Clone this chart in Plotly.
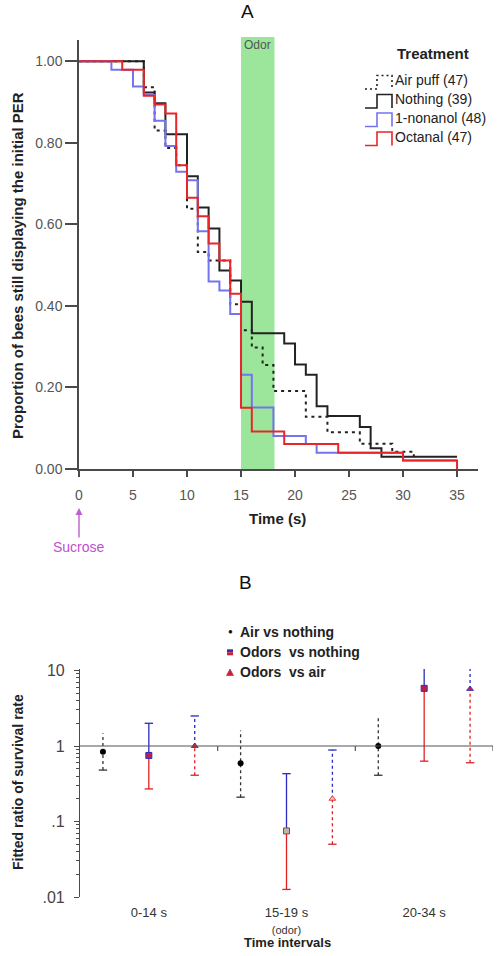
import plotly.graph_objects as go

W, H = 498, 956


def px(x):
    return x / W


def py(y):
    return 1 - y / H


# ---------------- Panel A data (Kaplan-Meier style step curves) ----------------
airpuff_t = [0, 6, 7, 8, 9, 10, 11, 12, 14, 15, 16, 17, 18, 21, 23, 26, 29, 31]
airpuff_s = [1.0, 0.936, 0.830, 0.787, 0.745, 0.638, 0.532, 0.511, 0.404, 0.340,
             0.298, 0.255, 0.191, 0.128, 0.090, 0.062, 0.042, 0.022]

nothing_t = [0, 6, 7, 8, 10, 11, 12, 13, 14, 15, 16, 19, 20, 21, 22, 23, 26, 27, 28, 35]
nothing_s = [1.0, 0.923, 0.897, 0.821, 0.718, 0.641, 0.590, 0.487, 0.462, 0.410,
             0.333, 0.308, 0.256, 0.231, 0.154, 0.130, 0.103, 0.051, 0.030, 0.030]

nonanol_t = [0, 3, 5, 6, 7, 8, 9, 10, 11, 12, 13, 14, 15, 16, 18, 21, 22, 30, 35]
nonanol_s = [1.0, 0.979, 0.938, 0.917, 0.854, 0.792, 0.729, 0.708, 0.583, 0.460,
             0.438, 0.380, 0.231, 0.151, 0.081, 0.061, 0.040, 0.021, 0.021]

octanal_t = [0, 4, 6, 7, 8, 9, 10, 11, 12, 13, 14, 15, 16, 19, 24, 30, 35]
octanal_s = [1.0, 0.979, 0.915, 0.894, 0.872, 0.745, 0.665, 0.620, 0.553, 0.511,
             0.430, 0.150, 0.092, 0.061, 0.040, 0.021, 0.0]

legend_labels = ["Air puff (47)", "Nothing (39)", "1-nonanol (48)", "Octanal (47)"]
odor_window = [15, 18.1]
x_ticks_a = [0, 5, 10, 15, 20, 25, 30, 35]
y_ticks_a = [0.0, 0.2, 0.4, 0.6, 0.8, 1.0]

# ---------------- Panel B data (fitted ratios with CIs) ----------------
intervals = ["0-14 s", "15-19 s<br><span style='font-size:11px'>(odor)</span>", "20-34 s"]
air_est = [0.84, 0.59, 1.0]
air_lo = [0.48, 0.21, 0.41]
air_hi = [1.47, 1.61, 2.4]

odn_est = [0.75, 0.075, 5.8]
odn_lo = [0.27, 0.0126, 0.63]
odn_hi = [2.0, 0.43, 40.0]

oda_est = [1.0, 0.20, 5.7]
oda_lo = [0.41, 0.05, 0.60]
oda_hi = [2.5, 0.885, 40.0]

BLACK = "#222222"
BLUE = "#7474ee"
RED = "#e8262a"
EBLUE = "#2a2ac0"
ERED = "#e02020"

fig = go.Figure()

# Panel A curves
dash_dot = "3px,4px"
for t, s, col, dash in [(airpuff_t, airpuff_s, BLACK, dash_dot),
                        (nothing_t, nothing_s, BLACK, "solid"),
                        (nonanol_t, nonanol_s, BLUE, "solid"),
                        (octanal_t, octanal_s, RED, "solid")]:
    fig.add_trace(go.Scatter(x=t, y=s, mode="lines",
                             line=dict(color=col, width=2, dash=dash, shape="hv"),
                             xaxis="x", yaxis="y", showlegend=False, hoverinfo="skip"))


# Panel B
def group_x(series_idx):
    return [3 * g + series_idx + 0.5 for g in range(len(intervals))]


def vsegs(xv, a, b):
    xx, yy = [], []
    for x0, y0, y1 in zip(xv, a, b):
        xx += [x0, x0, None]
        yy += [y0, y1, None]
    return xx, yy


def add_bar(xv, a, b, col, dash):
    xx, yy = vsegs(xv, a, b)
    fig.add_trace(go.Scatter(x=xx, y=yy, mode="lines", line=dict(color=col, width=1.3, dash=dash),
                             xaxis="x2", yaxis="y2", showlegend=False, hoverinfo="skip"))


def add_caps(xv, v, col):
    fig.add_trace(go.Scatter(x=xv, y=v, mode="markers",
                             marker=dict(symbol="line-ew", size=6, line=dict(width=1.3, color=col)),
                             xaxis="x2", yaxis="y2", showlegend=False, hoverinfo="skip"))


xa, xn, xo = group_x(0), group_x(1), group_x(2)
# Air vs nothing: black dotted
add_bar(xa, air_lo, air_hi, "#333333", "dot")
add_caps(xa, air_lo + air_hi, "#333333")
# Odors vs nothing: solid, blue upper / red lower
add_bar(xn, odn_est, odn_hi, EBLUE, "solid")
add_bar(xn, odn_lo, odn_est, ERED, "solid")
add_caps(xn, odn_hi, EBLUE)
add_caps(xn, odn_lo, ERED)
# Odors vs air: dotted, blue upper / red lower
add_bar(xo, oda_est, oda_hi, EBLUE, "dot")
add_bar(xo, oda_lo, oda_est, ERED, "dot")
add_caps(xo, oda_hi, EBLUE)
add_caps(xo, oda_lo, ERED)

fig.add_trace(go.Scatter(x=xa, y=air_est, mode="markers",
                         marker=dict(symbol="circle", size=6, color="black"),
                         xaxis="x2", yaxis="y2", showlegend=False, hoverinfo="skip"))
fig.add_trace(go.Scatter(x=xn, y=odn_est, mode="markers",
                         marker=dict(symbol="square", size=6, color=["#c02040", "#a8c0b0", "#c02040"],
                                     line=dict(width=1, color=[EBLUE, ERED, EBLUE])),
                         xaxis="x2", yaxis="y2", showlegend=False, hoverinfo="skip"))
fig.add_trace(go.Scatter(x=xo, y=oda_est, mode="markers",
                         marker=dict(symbol="triangle-up", size=6, color=["#d02030", "#e8c0c0", "#d02030"],
                                     line=dict(width=0.8, color=[EBLUE, ERED, EBLUE])),
                         xaxis="x2", yaxis="y2", showlegend=False, hoverinfo="skip"))

AX = "#4a4a4a"
TICKF = dict(family="Liberation Sans, Arial", size=14, color="#555555")

B_LO, B_HI = -2.0, 1.02
b_top, b_bot = 669, 897

fig.update_layout(
    width=W, height=H, margin=dict(l=0, r=0, t=0, b=0),
    paper_bgcolor="white", plot_bgcolor="white",
    font=dict(family="Liberation Sans, Arial", color="#222222"),
    xaxis=dict(domain=[px(79), px(478)], range=[0, 36.94], anchor="y", automargin=False,
               showline=True, linecolor=AX, linewidth=1.5, mirror=False,
               ticks="outside", ticklen=6, tickwidth=1.5, tickcolor=AX,
               tickvals=x_ticks_a, tickfont=TICKF, ticklabelstandoff=6,
               showgrid=False, zeroline=False),
    yaxis=dict(domain=[py(469), py(40)], range=[0, 1.052], anchor="x", automargin=False,
               showline=True, linecolor=AX, linewidth=1.5,
               ticks="outside", ticklen=12, tickwidth=1.5, tickcolor=AX,
               tickvals=y_ticks_a, tickformat=".2f", tickfont=TICKF,
               showgrid=False, zeroline=False),
    xaxis2=dict(domain=[px(80), px(493)], range=[0, 9], anchor="y2", automargin=False,
                showline=False, ticks="", tickvals=[3 * g + 1.5 for g in range(len(intervals))],
                ticktext=intervals, tickfont=dict(family="Liberation Sans, Arial", size=13, color="#333333"),
                ticklabelstandoff=6, showgrid=False, zeroline=False),
    yaxis2=dict(type="log", domain=[py(b_bot), py(b_top)], range=[B_LO, B_HI], anchor="x2", automargin=False,
                showline=True, linecolor=AX, linewidth=1.2,
                ticks="outside", ticklen=5, tickwidth=1.2, tickcolor=AX,
                tickvals=[0.01, 0.1, 1, 10], ticktext=[".01", ".1", "1", "10"],
                tickfont=dict(family="Liberation Sans, Arial", size=16, color="#444444"),
                ticklabelstandoff=6,
                minor=dict(ticks="outside", ticklen=3, tickcolor=AX, dtick="D1", showgrid=False),
                showgrid=False, zeroline=False),
)

shapes = []
# Odor window band
shapes.append(dict(type="rect", xref="x", yref="y domain", x0=odor_window[0], x1=odor_window[1],
                   y0=0, y1=1.007, fillcolor="#9be69b", line=dict(width=0), layer="below"))
# Reference line at ratio 1 with interval separators
f1 = (0 - B_LO) / (B_HI - B_LO)
tick_f = 5 / (b_bot - b_top)
shapes.append(dict(type="line", xref="x2 domain", yref="y2 domain", x0=0, x1=1, y0=f1, y1=f1,
                   line=dict(color="#555555", width=1.2)))
for xb in [3, 6, 9]:
    shapes.append(dict(type="line", xref="x2", yref="y2 domain", x0=xb, x1=xb, y0=f1, y1=f1 - tick_f,
                       line=dict(color="#555555", width=1.2)))

# Treatment legend icons (step glyphs)
leg_y = [80, 99, 117.5, 136.5]
leg_styles = [(BLACK, "dot"), (BLACK, "solid"), (BLUE, "solid"), (RED, "solid")]
for cy, (col, dash) in zip(leg_y, leg_styles):
    x0, xm, x1 = 365, 377, 392
    ytop, ybot = cy - 4.5, cy + 9
    path = (f"M {px(x0)},{py(ybot)} L {px(xm)},{py(ybot)} L {px(xm)},{py(ytop)} "
            f"L {px(x1)},{py(ytop)} L {px(x1)},{py(ybot)}")
    shapes.append(dict(type="path", xref="paper", yref="paper", path=path,
                       line=dict(color=col, width=1.6, dash=("2px,3px" if dash == "dot" else "solid"))))

# Panel B legend glyphs
sq_y = 652.3
shapes.append(dict(type="rect", xref="paper", yref="paper", x0=px(227), x1=px(233),
                   y0=py(sq_y), y1=py(sq_y - 3), fillcolor="#3030c0", line=dict(width=0)))
shapes.append(dict(type="rect", xref="paper", yref="paper", x0=px(227), x1=px(233),
                   y0=py(sq_y + 3), y1=py(sq_y), fillcolor="#d02030", line=dict(width=0)))
tr_y = 672.5
shapes.append(dict(type="path", xref="paper", yref="paper",
                   path=f"M {px(226.5)},{py(tr_y + 3)} L {px(233.5)},{py(tr_y + 3)} L {px(230)},{py(tr_y - 3.5)} Z",
                   fillcolor="#d02030", line=dict(width=0.6, color="#a02050")))
fig.update_layout(shapes=shapes)

ann = []


def note(x, y, text, size=14, bold=False, color="#222222", xanchor="center", angle=0):
    ann.append(dict(xref="paper", yref="paper", x=px(x), y=py(y), text=(f"<b>{text}</b>" if bold else text),
                    showarrow=False, xanchor=xanchor, yanchor="middle", textangle=angle,
                    font=dict(family="Liberation Sans, Arial", size=size, color=color)))


note(247, 12, "A", size=19, color="#111111")
note(245, 582, "B", size=19, color="#111111")
note(18, 266, "Proportion of bees still displaying the initial PER", size=15, bold=True, angle=-90)
note(277.7, 518, "Time (s)", size=15, bold=True)
note(432.7, 53.5, "Treatment", size=15, bold=True)
for cy, lab in zip(leg_y, legend_labels):
    note(393, cy, lab, size=14, xanchor="left")
note(18, 782, "Fitted ratio of survival rate", size=14, bold=True, angle=-90)
note(287, 942, "Time intervals", size=13, bold=True)
note(230, 631.7, "●", size=8, color="#111111")
note(237.5, 631.7, "Air vs nothing", size=14, bold=True, xanchor="left")
note(237.5, 652.3, "Odors&nbsp; vs nothing", size=14, bold=True, xanchor="left")
note(237.5, 672.3, "Odors&nbsp; vs air", size=14, bold=True, xanchor="left")

ann.append(dict(xref="x", yref="paper", x=odor_window[0] + 0.1, y=py(45), text="Odor", showarrow=False,
                xanchor="left", yanchor="middle",
                font=dict(family="Liberation Sans, Arial", size=12, color="#555555")))
ann.append(dict(xref="x", yref="paper", x=0, y=py(508), text="Sucrose", showarrow=True,
                ax=0, ay=39, arrowhead=2, arrowsize=1, arrowwidth=1.4, arrowcolor="#c060d0",
                font=dict(family="Liberation Sans, Arial", size=14, color="#c050d0")))
fig.update_layout(annotations=ann)

fig.write_html("out.html", config={"displayModeBar": False},
               post_script="document.body.style.margin='0';document.body.style.overflow='hidden';")
